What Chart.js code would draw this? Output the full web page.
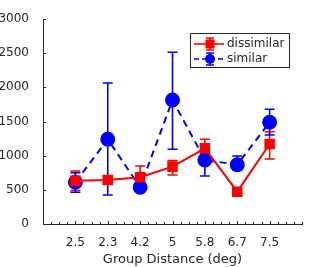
<!DOCTYPE html>
<html><head><meta charset="utf-8">
<script src="https://cdn.jsdelivr.net/npm/chart.js@4"></script>
<style>html,body{margin:0;padding:0;background:#fff}#c{display:block}</style>
</head><body>
<canvas id="c" width="334" height="267"></canvas>
<script>
const categories = ['2.5','2.3','4.2','5','5.8','6.7','7.5'];
const dissimilar = [634, 644, 684, 839, 1108, 473, 1171];
const dissimilarHi = [776, 700, 849, 927, 1240, 515, 1350];
const dissimilarLo = [490, 590, 540, 717, 1035, 430, 952];
const similar = [610, 1240, 537, 1815, 937, 868, 1489];
const similarHi = [750, 2063, 600, 2513, 1171, 996, 1679];
const similarLo = [464, 425, 480, 1094, 703, 791, 1303];
const yTicks = [0, 500, 1000, 1500, 2000, 2500, 3000];
const seriesNames = ['dissimilar', 'similar'];

const RED = '#ff0000', BLUE = '#0000ff', TXT = '#262626';
const FONT = '"DejaVu Sans", sans-serif';

const pts = arr => arr.map((v, i) => ({x: i + 1, y: v}));

const errPlugin = {
  id: 'err',
  beforeDatasetsDraw(chart) {
    const ctx = chart.ctx, xs = chart.scales.x, ys = chart.scales.y;
    const sets = [[dissimilarLo, dissimilarHi, RED], [similarLo, similarHi, BLUE]];
    sets.forEach(([lo, hi, col]) => {
      ctx.save();
      ctx.strokeStyle = col; ctx.lineWidth = 1.6; ctx.setLineDash([]);
      lo.forEach((l, i) => {
        const x = xs.getPixelForValue(i + 1);
        const y1 = ys.getPixelForValue(l), y2 = ys.getPixelForValue(hi[i]);
        ctx.beginPath();
        ctx.moveTo(x, y1); ctx.lineTo(x, y2);
        ctx.moveTo(x - 5, y1); ctx.lineTo(x + 5, y1);
        ctx.moveTo(x - 5, y2); ctx.lineTo(x + 5, y2);
        ctx.stroke();
      });
      ctx.restore();
    });
  },
  afterDraw(chart) {
    const ctx = chart.ctx, xs = chart.scales.x, ys = chart.scales.y;
    const ca = chart.chartArea;
    ctx.save();
    ctx.strokeStyle = TXT; ctx.lineWidth = 1;
    for (let v = 0; v <= 8.001; v += 0.25) {
      const x = Math.round(xs.getPixelForValue(v)) + 0.5;
      const major = Math.abs(v - Math.round(v)) < 1e-6 && v >= 1 && v <= 7;
      ctx.beginPath(); ctx.moveTo(x, ca.bottom); ctx.lineTo(x, ca.bottom - (major ? 3 : 2)); ctx.stroke();
    }
    yTicks.forEach(v => {
      const y = Math.round(ys.getPixelForValue(v)) + 0.5;
      ctx.beginPath(); ctx.moveTo(ca.left, y); ctx.lineTo(ca.left + 3, y); ctx.stroke();
    });
    const bx = 190.5, by = 33.5, bw = 99, bh = 34;
    ctx.fillStyle = '#fff'; ctx.fillRect(bx, by, bw, bh);
    ctx.strokeStyle = '#262626'; ctx.lineWidth = 1; ctx.strokeRect(bx, by, bw, bh);
    const rows = [[RED, [], 'rect', seriesNames[0], 44], [BLUE, [5, 3], 'circle', seriesNames[1], 59]];
    rows.forEach(([col, dash, shape, name, y]) => {
      ctx.strokeStyle = col; ctx.fillStyle = col; ctx.lineWidth = 1.6;
      ctx.setLineDash(dash);
      ctx.beginPath(); ctx.moveTo(194, y); ctx.lineTo(224, y); ctx.stroke();
      ctx.setLineDash([]);
      ctx.beginPath(); ctx.moveTo(210, y - 6); ctx.lineTo(210, y + 6);
      ctx.moveTo(206, y - 6); ctx.lineTo(214, y - 6);
      ctx.moveTo(206, y + 6); ctx.lineTo(214, y + 6); ctx.stroke();
      if (shape === 'rect') ctx.fillRect(205.5, y - 4.5, 9, 9);
      else { ctx.beginPath(); ctx.arc(210, y, 5, 0, Math.PI * 2); ctx.fill(); }
      ctx.fillStyle = TXT; ctx.font = '12px ' + FONT; ctx.textBaseline = 'middle'; ctx.textAlign = 'left';
      ctx.fillText(name, 227, y);
    });
    ctx.restore();
  }
};

new Chart(document.getElementById('c'), {
  type: 'line',
  data: {
    datasets: [
      {label: seriesNames[0], data: pts(dissimilar), borderColor: RED, backgroundColor: RED,
       borderWidth: 2, pointStyle: 'rect', pointRadius: 6, pointHoverRadius: 6, tension: 0, fill: false},
      {label: seriesNames[1], data: pts(similar), borderColor: BLUE, backgroundColor: BLUE,
       borderWidth: 2, borderDash: [7, 5], pointStyle: 'circle', pointRadius: 6.5, pointHoverRadius: 6.5, tension: 0, fill: false}
    ]
  },
  options: {
    responsive: false, animation: false, devicePixelRatio: 1,
    layout: {padding: {top: 19, right: 32, left: 0, bottom: 0}},
    plugins: {legend: {display: false}, tooltip: {enabled: false}},
    scales: {
      x: {
        type: 'linear', min: 0, max: 8,
        afterBuildTicks: s => { s.ticks = categories.map((c, i) => ({value: i + 1})); },
        afterFit: s => { s.height = 43; },
        grid: {display: false},
        border: {display: true, color: TXT, width: 1},
        ticks: {autoSkip: false, maxRotation: 0, padding: 4, color: TXT, font: {family: FONT, size: 12},
                callback: (v) => categories[Math.round(v) - 1] ?? ''},
        title: {display: true, text: 'Group Distance (deg)', color: TXT, font: {family: FONT, size: 13}, padding: {top: 3, bottom: 0}}
      },
      y: {
        type: 'linear', min: 0, max: 3000,
        afterBuildTicks: s => { s.ticks = yTicks.map(v => ({value: v})); },
        afterFit: s => { s.width = 43; },
        grid: {display: false},
        border: {display: true, color: TXT, width: 1},
        ticks: {padding: 6, color: TXT, font: {family: FONT, size: 12}, callback: v => String(v)}
      }
    }
  },
  plugins: [errPlugin]
});
</script>
</body></html>
